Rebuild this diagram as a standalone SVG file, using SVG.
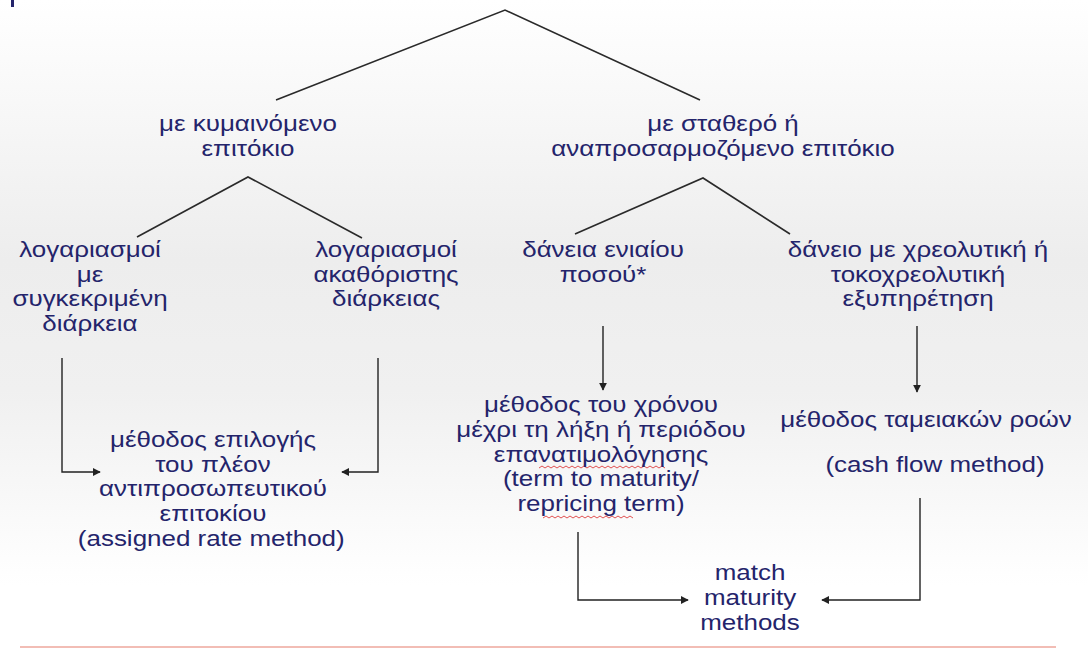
<svg xmlns="http://www.w3.org/2000/svg" width="1088" height="650" viewBox="0 0 1088 650">
<defs>
<linearGradient id="bg" x1="0" y1="0" x2="0" y2="1">
<stop offset="0" stop-color="#ffffff"/>
<stop offset="0.4" stop-color="#ededed"/>
<stop offset="0.6" stop-color="#f0f0f0"/>
<stop offset="0.9" stop-color="#ffffff"/>
<stop offset="1" stop-color="#ffffff"/>
</linearGradient>
<marker id="ah" viewBox="0 0 10 10" refX="9" refY="5" markerWidth="8" markerHeight="8" markerUnits="userSpaceOnUse" orient="auto">
<path d="M0,0 L10,5 L0,10 z" fill="#222"/>
</marker>
<style>
text{font-family:"Liberation Sans",Arial,sans-serif;font-size:22px;fill:#24246b;text-anchor:middle}
.ln{fill:none;stroke:#2a2a2a;stroke-width:1.6}
.ar{fill:none;stroke:#222;stroke-width:1.4;marker-end:url(#ah)}
.wv{fill:none;stroke:#e05050;stroke-width:1}
</style>
</defs>
<rect width="1088" height="650" fill="url(#bg)"/>
<rect x="11" y="0" width="3" height="7" fill="#24246b"/>
<line x1="20" y1="647" x2="1056" y2="647" stroke="#f2bdb5" stroke-width="2"/>

<g id="connectors">
<polyline class="ln" points="276,100 505,10 700,100"/>
<polyline class="ln" points="137,237 248,177 362,238"/>
<polyline class="ln" points="575,234 703,178 790,234"/>
<polyline class="ar" points="62,358 62,472 100,472"/>
<polyline class="ar" points="378,358 378,472 342,472"/>
<polyline class="ar" points="603,326 603,390"/>
<polyline class="ar" points="917,326 917,392"/>
<polyline class="ar" points="578,532 578,600 688,600"/>
<polyline class="ar" points="920,498 920,600 822,600"/>
<path class="wv" d="M539,468 l3,-2 l3,2 l3,-2 l3,2 l3,-2 l3,2 l3,-2 l3,2 l3,-2 l3,2 l3,-2 l3,2 l3,-2 l3,2 l3,-2 l3,2 l3,-2 l3,2 l3,-2 l3,2 l3,-2 l3,2 l3,-2 l3,2 l3,-2 l3,2 l3,-2 l3,2 l3,-2 l3,2 l3,-2 l3,2 l3,-2 l3,2 l3,-2 l3,2 l3,-2 l3,2 l3,-2 l3,2 l3,-2 l3,2"/>
<path class="wv" d="M543,518 l3,-2 l3,2 l3,-2 l3,2 l3,-2 l3,2 l3,-2 l3,2 l3,-2 l3,2 l3,-2 l3,2 l3,-2 l3,2 l3,-2 l3,2 l3,-2 l3,2 l3,-2 l3,2 l3,-2 l3,2 l3,-2 l3,2 l3,-2 l3,2 l3,-2 l3,2 l3,-2 l3,2"/>
</g>

<g id="n-floating" transform="translate(248 0) scale(1.18 1)">
<text x="0" y="131">με κυμαινόμενο</text>
<text x="0" y="156">επιτόκιο</text>
</g>
<g id="n-fixed" transform="translate(723 0) scale(1.18 1)">
<text x="0" y="131">με σταθερό ή</text>
<text x="0" y="156">αναπροσαρμοζόμενο επιτόκιο</text>
</g>
<g id="n-term-accounts" transform="translate(90 0) scale(1.18 1)">
<text x="0" y="257">λογαριασμοί</text>
<text x="0" y="281.7">με</text>
<text x="0" y="306.4">συγκεκριμένη</text>
<text x="0" y="331.1">διάρκεια</text>
</g>
<g id="n-indef-accounts" transform="translate(386 0) scale(1.18 1)">
<text x="0" y="257">λογαριασμοί</text>
<text x="0" y="281.7">ακαθόριστης</text>
<text x="0" y="306.4">διάρκειας</text>
</g>
<g id="n-bullet-loans" transform="translate(603 0) scale(1.18 1)">
<text x="0" y="257">δάνεια ενιαίου</text>
<text x="0" y="281.7">ποσού*</text>
</g>
<g id="n-amort-loans" transform="translate(918 0) scale(1.18 1)">
<text x="0" y="257">δάνειο με χρεολυτική ή</text>
<text x="0" y="281.7">τοκοχρεολυτική</text>
<text x="0" y="306.4">εξυπηρέτηση</text>
</g>
<g id="n-assigned" transform="translate(213 0) scale(1.18 1)">
<text x="0" y="447">μέθοδος επιλογής</text>
<text x="0" y="471.7">του πλέον</text>
<text x="0" y="496.4">αντιπροσωπευτικού</text>
<text x="0" y="521.1">επιτοκίου</text>
<text x="-1.5" y="545.8">(assigned rate method)</text>
</g>
<g id="n-term-maturity" transform="translate(601 0) scale(1.18 1)">
<text x="0" y="412">μέθοδος του χρόνου</text>
<text x="0" y="436.8">μέχρι τη λήξη ή περιόδου</text>
<text x="0" y="461.6">επανατιμολόγησης</text>
<text x="0" y="486.4">(term to maturity/</text>
<text x="0" y="511.2">repricing term)</text>
</g>
<g id="n-cashflow">
<text transform="translate(926 427) scale(1.18 1)" x="0" y="0">μέθοδος ταμειακών ροών</text>
<text transform="translate(935 472) scale(1.18 1)" x="0" y="0">(cash flow method)</text>
</g>
<g id="n-match" transform="translate(750 0) scale(1.18 1)">
<text x="0" y="580">match</text>
<text x="0" y="605">maturity</text>
<text x="0" y="630">methods</text>
</g>
</svg>
